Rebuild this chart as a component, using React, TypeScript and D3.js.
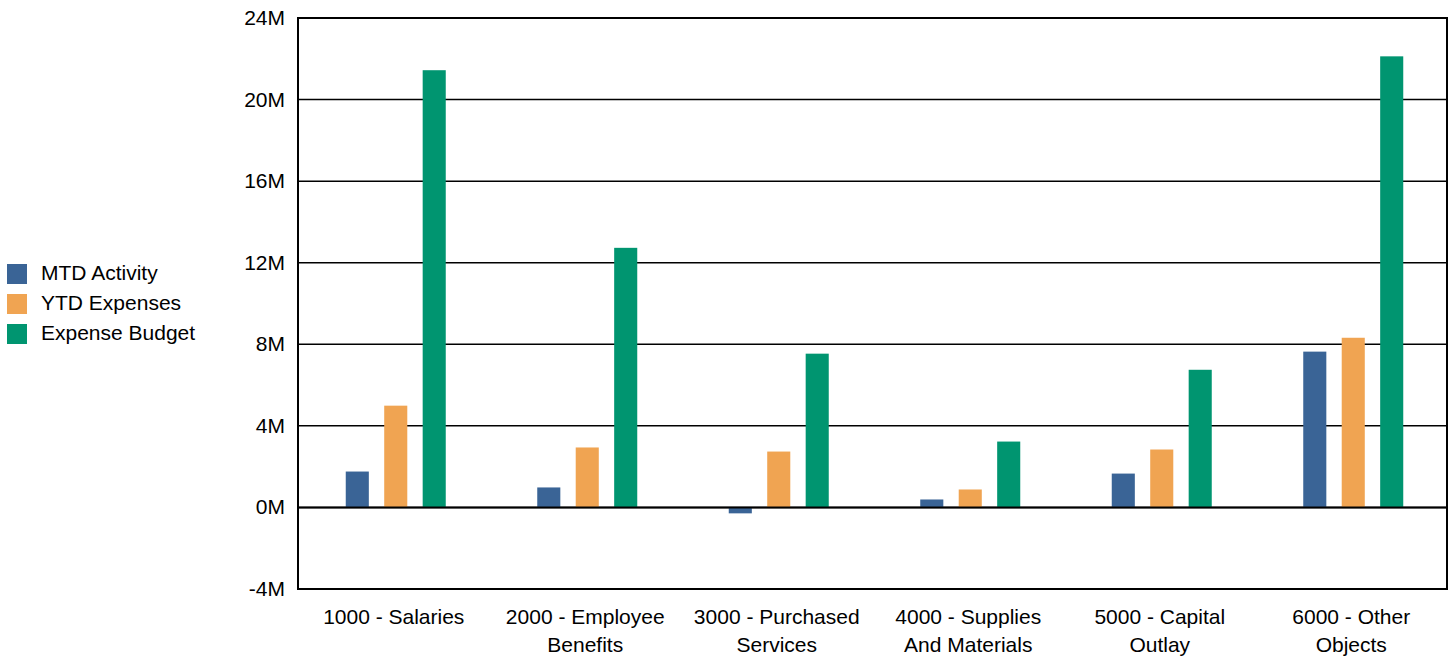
import { useEffect, useRef } from "react";
import * as d3 from "d3";

const categories = [
  ["1000 - Salaries"],
  ["2000 - Employee", "Benefits"],
  ["3000 - Purchased", "Services"],
  ["4000 - Supplies", "And Materials"],
  ["5000 - Capital", "Outlay"],
  ["6000 - Other", "Objects"],
];
const seriesNames = ["MTD Activity", "YTD Expenses", "Expense Budget"];
const seriesColors = ["#3a6496", "#f0a452", "#009570"];
const mtdActivity = [1.76, 0.98, -0.29, 0.39, 1.66, 7.64];
const ytdExpenses = [4.99, 2.94, 2.74, 0.88, 2.84, 8.32];
const expenseBudget = [21.44, 12.73, 7.54, 3.23, 6.75, 22.12];
const yTicks = [-4, 0, 4, 8, 12, 16, 20, 24];

export default function App() {
  const svgRef = useRef<SVGSVGElement | null>(null);

  useEffect(() => {
    if (!svgRef.current) return;
    const svg = d3.select(svgRef.current);
    svg.selectAll("*").remove();
    const left = 298;
    const right = 1447;
    const top = 18;
    const bottom = 589;
    const font = "Arial, 'Liberation Sans', sans-serif";
    const fs = 21;

    const x = d3
      .scaleBand<number>()
      .domain(categories.map((_, i) => i))
      .range([left, right]);
    const y = d3.scaleLinear().domain([-4, 24]).range([bottom, top]);
    const inner = d3
      .scaleBand<number>()
      .domain([0, 1, 2])
      .range([-48, 52])
      .paddingInner(0.4);

    // gridlines
    svg
      .append("g")
      .selectAll("line")
      .data(yTicks)
      .enter()
      .append("line")
      .attr("x1", left)
      .attr("x2", right)
      .attr("y1", (d) => y(d))
      .attr("y2", (d) => y(d))
      .attr("stroke", "#000")
      .attr("stroke-width", 1.5);

    // y labels
    svg
      .append("g")
      .selectAll("text")
      .data(yTicks)
      .enter()
      .append("text")
      .attr("x", left - 13)
      .attr("y", (d) => y(d) + 7)
      .attr("text-anchor", "end")
      .attr("font-family", font)
      .attr("font-size", fs)
      .attr("fill", "#000")
      .text((d) => `${d}M`);

    // bars
    const allSeries = [mtdActivity, ytdExpenses, expenseBudget];
    allSeries.forEach((vals, s) => {
      svg
        .append("g")
        .selectAll("rect")
        .data(vals)
        .enter()
        .append("rect")
        .attr("x", (_, i) => x(i)! + x.bandwidth() / 2 + inner(s)!)
        .attr("y", (d) => y(Math.max(d, 0)))
        .attr("width", inner.bandwidth())
        .attr("height", (d) => Math.abs(y(d) - y(0)))
        .attr("fill", seriesColors[s]);
    });

    // zero line on top
    svg
      .append("line")
      .attr("x1", left)
      .attr("x2", right)
      .attr("y1", y(0))
      .attr("y2", y(0))
      .attr("stroke", "#000")
      .attr("stroke-width", 2);

    // frame
    svg
      .append("rect")
      .attr("x", left)
      .attr("y", top)
      .attr("width", right - left)
      .attr("height", bottom - top)
      .attr("fill", "none")
      .attr("stroke", "#000")
      .attr("stroke-width", 2);

    // x labels
    const xl = svg
      .append("g")
      .selectAll("text")
      .data(categories)
      .enter()
      .append("text")
      .attr("text-anchor", "middle")
      .attr("font-family", font)
      .attr("font-size", fs)
      .attr("fill", "#000");
    xl.each(function (lines, i) {
      const t = d3.select(this);
      lines.forEach((line, j) => {
        t.append("tspan")
          .attr("x", x(i)! + x.bandwidth() / 2)
          .attr("y", 624 + j * 28)
          .text(line);
      });
    });

    // legend
    const lg = svg.append("g");
    seriesNames.forEach((name, i) => {
      lg.append("rect")
        .attr("x", 7)
        .attr("y", 264 + i * 30)
        .attr("width", 20)
        .attr("height", 20)
        .attr("fill", seriesColors[i]);
      lg.append("text")
        .attr("x", 41)
        .attr("y", 280 + i * 30)
        .attr("font-family", font)
        .attr("font-size", fs)
        .attr("fill", "#000")
        .text(name);
    });
  }, []);

  return (
    <div style={{ position: "absolute", left: 0, top: 0 }}>
      <svg ref={svgRef} width={1453} height={657} />
    </div>
  );
}
